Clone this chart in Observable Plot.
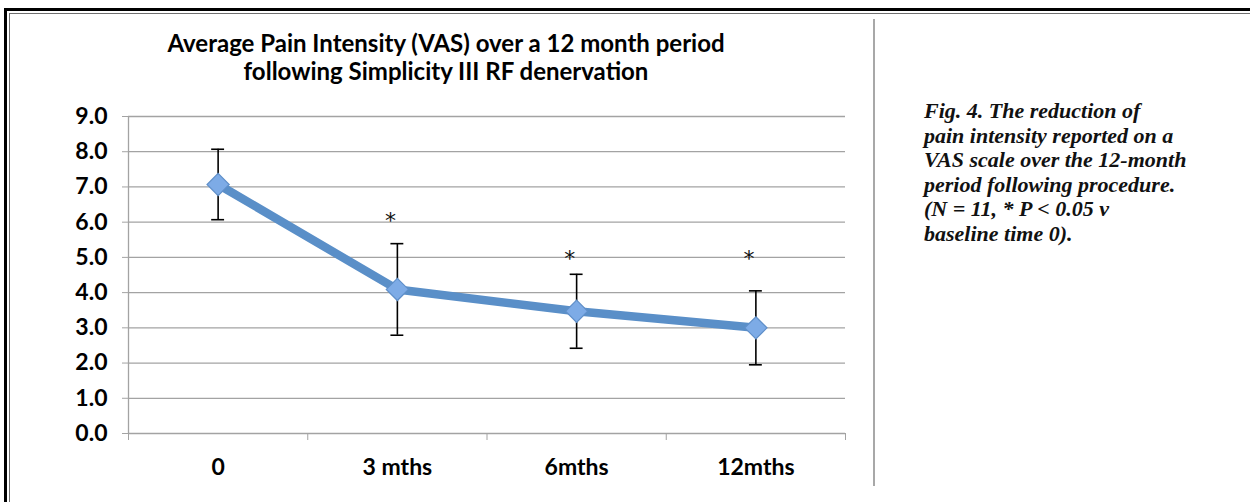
<!DOCTYPE html>
<html>
<head>
<meta charset="utf-8">
<script src="https://cdn.jsdelivr.net/npm/d3@7"></script>
<script src="https://cdn.jsdelivr.net/npm/@observablehq/plot@0.6"></script>
<style>
  html, body { margin: 0; padding: 0; background: #fff; overflow: hidden; }
  #page { position: relative; width: 1250px; height: 502px; overflow: hidden; background: #fff; }
  #outer { position: absolute; left: 4px; top: 8px; width: 1400px; height: 700px; border-left: 3px solid #000; border-top: 3px solid #000; }
  #inner { position: absolute; left: 9px; top: 13px; width: 1400px; height: 700px; border-left: 1.5px solid #6f6f6f; border-top: 1.5px solid #6f6f6f; }
  #divider { position: absolute; left: 873px; top: 19px; width: 2px; height: 467px; background: #a8a8a8; }
  #title { position: absolute; left: 0; top: 29px; width: 892px; text-align: center; font-family: Lato, sans-serif; font-weight: 700; font-size: 24px; line-height: 28px; color: #000; }
  #caption { position: absolute; left: 924px; top: 99px; width: 320px; font-family: "Liberation Serif", serif; font-weight: bold; font-style: italic; font-size: 22px; line-height: 24.5px; color: #111; }
  #chart { position: absolute; left: 0; top: 90px; }
</style>
</head>
<body>
<div id="page">
  <div id="outer"></div>
  <div id="inner"></div>
  <div id="divider"></div>
  <div id="title">Average Pain Intensity (VAS) over a 12 month period<br>following Simplicity III RF denervation</div>
  <div id="caption">Fig. 4. The reduction of<br>pain intensity reported on a<br>VAS scale over the 12-month<br>period following procedure.<br>(N = 11, * P &lt; 0.05 v<br>baseline time 0).</div>
  <div id="chart"></div>
</div>
<script>
const categories = ["0", "3 mths", "6mths", "12mths"];
const meanVAS = [7.07, 4.09, 3.47, 3.00];
const errVAS = [1.0, 1.3, 1.05, 1.05];
const sigLabel = ["", "*", "*", "*"];
const sigY = [null, 6.1, 5.0, 5.0];
const yTicks = [0, 1, 2, 3, 4, 5, 6, 7, 8, 9];

const data = categories.map((c, i) => ({
  i, c, mean: meanVAS[i], lo: meanVAS[i] - errVAS[i], hi: meanVAS[i] + errVAS[i],
  sig: sigLabel[i], sy: sigY[i]
}));
const sigData = data.filter(d => d.sig);
const capHalf = 0.036;
const bounds = d3.range(-0.5, categories.length, 1);

const chart = Plot.plot({
  width: 870,
  height: 400,
  marginLeft: 128,
  marginRight: 25,
  marginTop: 26,
  marginBottom: 57,
  style: { fontFamily: "Lato, sans-serif", background: "transparent", overflow: "visible" },
  x: { type: "linear", domain: [-0.5, categories.length - 0.5] },
  y: { domain: [0, 9] },
  marks: [
    Plot.gridY(yTicks, { stroke: "#a3a3a3", strokeOpacity: 1, strokeWidth: 1.3 }),
    Plot.ruleX([-0.5], { stroke: "#a3a3a3", strokeWidth: 1.3 }),
    Plot.axisY(yTicks, { label: null, tickSize: 6, tickPadding: 15, stroke: "#a3a3a3", fontSize: 23, fontWeight: "bold", fill: "#000", tickFormat: d => d.toFixed(1) }),
    Plot.axisX(bounds, { label: null, tickSize: 7, stroke: "#a3a3a3", tickFormat: () => "" }),
    Plot.axisX(d3.range(categories.length), { label: null, tickSize: 0, tickPadding: 25, fontSize: 23, fontWeight: "bold", fill: "#000", tickFormat: i => categories[i] }),
    Plot.ruleX(data, { x: "i", y1: "lo", y2: "hi", stroke: "#000", strokeWidth: 1.6 }),
    Plot.ruleY(data, { y: "hi", x1: d => d.i - capHalf, x2: d => d.i + capHalf, stroke: "#000", strokeWidth: 1.6 }),
    Plot.ruleY(data, { y: "lo", x1: d => d.i - capHalf, x2: d => d.i + capHalf, stroke: "#000", strokeWidth: 1.6 }),
    Plot.line(data, { x: "i", y: "mean", stroke: "#5a8fc8", strokeWidth: 8.5, strokeLinejoin: "round", strokeLinecap: "round" }),
    Plot.dot(data, { x: "i", y: "mean", symbol: "diamond2", r: 10, fill: "#7dabe6", stroke: "#5f8fc9", strokeWidth: 1.2 }),
    Plot.text(sigData, { x: "i", y: "sy", text: "sig", dx: -7, dy: 2, fontSize: 22, fill: "#111", fontFamily: "DejaVu Sans" })
  ]
});
document.getElementById("chart").appendChild(chart);
</script>
</body>
</html>
